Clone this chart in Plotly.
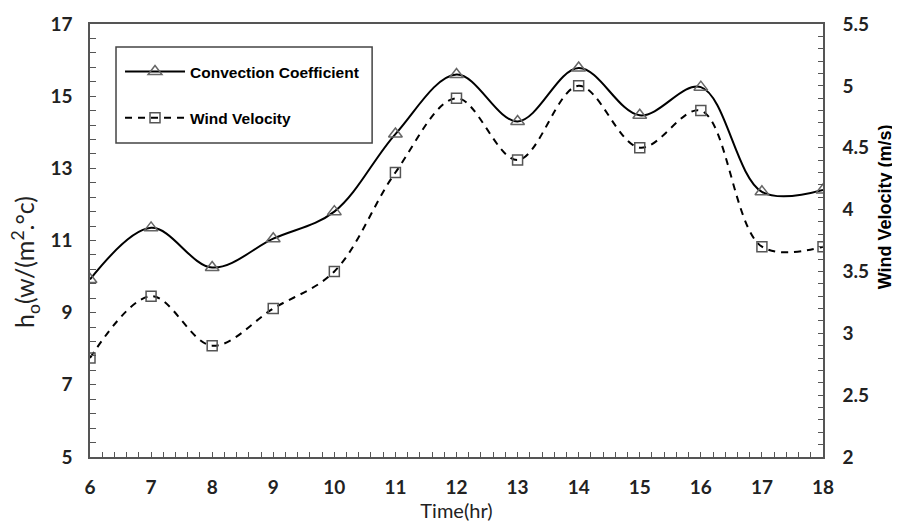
import plotly.graph_objects as go

hours = [6, 7, 8, 9, 10, 11, 12, 13, 14, 15, 16, 17, 18]
convection = [9.92, 11.35, 10.25, 11.05, 11.8, 13.95, 15.6, 14.3, 15.78, 14.47, 15.25, 12.35, 12.4]
wind = [2.8, 3.3, 2.9, 3.2, 3.5, 4.3, 4.9, 4.4, 5.0, 4.5, 4.8, 3.7, 3.7]

left_ticks = [5, 7, 9, 11, 13, 15, 17]
right_ticks = [2, 2.5, 3, 3.5, 4, 4.5, 5, 5.5]
right_ticklabels = ["2", "2.5", "3", "3.5", "4", "4.5", "5", "5.5"]

AXC = "#555555"
TICKFONT = dict(family="Lato", size=19, color="#222222", weight="bold")

# page body has an 8px margin, so the figure is drawn 8px right/down
W, H = 892, 519
L, T = 82, 16
PW, PH = 732.7, 433
R = W - L - PW
B = H - T - PH


def px(xp):  # page x -> paper x
    return (xp - 8 - L) / PW


def py(yp):  # page y -> paper y
    return 1 - (yp - 8 - T) / PH


fig = go.Figure()
fig.add_trace(go.Scatter(
    x=hours, y=convection, name="Convection Coefficient", legendgroup="a",
    mode="lines+markers", line=dict(color="black", width=2, shape="spline", smoothing=1),
    marker=dict(symbol="triangle-up-open", size=12, color="#666666", line=dict(width=1.5, color="#666666")),
))
fig.add_trace(go.Scatter(
    x=hours, y=wind, name="Wind Velocity", legendgroup="b", yaxis="y2",
    mode="lines+markers", line=dict(color="black", width=2, dash="7px,6px", shape="spline", smoothing=1),
    marker=dict(symbol="square-open", size=10, color="#555555", line=dict(width=1.5, color="#555555")),
))

fig.update_layout(
    width=W, height=H,
    margin=dict(l=L, r=R, t=T, b=B, autoexpand=False),
    paper_bgcolor="white", plot_bgcolor="white",
    showlegend=True,
    legend=dict(
        x=px(120), y=py(55), xanchor="left", yanchor="top",
        borderwidth=0, bgcolor="rgba(0,0,0,0)",
        font=dict(family="Liberation Sans", size=15.5, color="black", weight="bold"),
        traceorder="grouped", tracegroupgap=23, itemwidth=60,
    ),
    shapes=[dict(type="rect", xref="paper", yref="paper",
                 x0=px(116), x1=px(372), y0=py(143), y1=py(47),
                 line=dict(color="#444444", width=1.5), fillcolor="rgba(0,0,0,0)", layer="above")],
    xaxis=dict(
        range=[6, 18], tickvals=hours, ticktext=[str(h) for h in hours],
        showline=True, linecolor=AXC, linewidth=1.5, mirror=True,
        ticks="inside", ticklen=5, tickcolor=AXC, tickwidth=1,
        minor=dict(dtick=0.2, ticks="inside", ticklen=5, tickcolor=AXC, tickwidth=1),
        showgrid=False, zeroline=False,
        tickfont=TICKFONT, ticklabelstandoff=12,
        title=dict(text="Time(hr)", font=dict(family="Lato", size=20, color="#222222"), standoff=4),
    ),
    yaxis=dict(
        range=[5, 17], tickvals=left_ticks,
        showline=True, linecolor=AXC, linewidth=1.5,
        ticks="inside", ticklen=6, tickcolor=AXC, tickwidth=1,
        minor=dict(dtick=0.4, tick0=5, ticks="inside", ticklen=6, tickcolor=AXC, tickwidth=1),
        showgrid=False, zeroline=False,
        tickfont=TICKFONT, ticklabelstandoff=12,
    ),
    yaxis2=dict(
        range=[2, 5.5], tickvals=right_ticks, ticktext=right_ticklabels,
        overlaying="y", side="right",
        showline=True, linecolor=AXC, linewidth=1.5,
        ticks="inside", ticklen=5, tickcolor=AXC, tickwidth=1,
        minor=dict(dtick=0.1, tick0=2, ticks="inside", ticklen=5, tickcolor=AXC, tickwidth=1),
        showgrid=False, zeroline=False,
        tickfont=TICKFONT, ticklabelstandoff=14,
    ),
    annotations=[
        dict(text="h<sub>o</sub>(w/(m<sup>2</sup>.°c)", xref="paper", yref="paper",
             x=px(25), y=py(262), textangle=-90, showarrow=False,
             font=dict(family="Lato", size=25, color="#222222"), xanchor="center", yanchor="middle"),
        dict(text="Wind Velocity (m/s)", xref="paper", yref="paper",
             x=px(885), y=py(207), textangle=-90, showarrow=False,
             font=dict(family="Liberation Sans", size=18, color="black", weight="bold"),
             xanchor="center", yanchor="middle"),
    ],
)

fig.write_html("out.html")
